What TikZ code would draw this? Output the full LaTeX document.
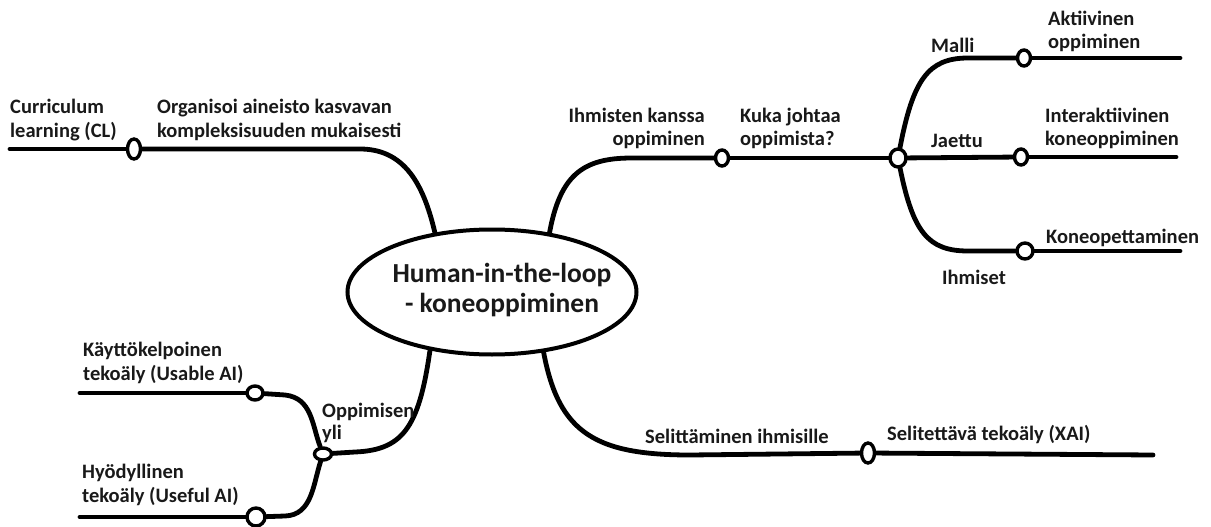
\documentclass[tikz,border=0pt]{standalone}
\usepackage{fontspec}
\setmainfont{Carlito}
\usetikzlibrary{shapes.geometric,backgrounds}
\begin{document}
\begin{tikzpicture}[x=1pt,y=-1pt,
  lbl/.style={font=\fontsize{20.5}{24}\selectfont\bfseries, text=black!90, inner sep=0pt, align=left},
  knot/.style={ellipse, draw, fill=white, line width=3.4pt, minimum width=13pt, minimum height=16pt, inner sep=0pt},
  branch/.style={line width=4.8pt, line cap=round},
  hubst/.style={ellipse, draw, fill=white, line width=4pt, minimum width=289pt, minimum height=125pt, inner sep=0pt},
  hubtxt/.style={align=center, inner sep=0pt, font=\fontsize{27.5}{30}\selectfont\bfseries, text=black!90}]
\useasboundingbox (0,0) rectangle (1211,527);

% hub
\node[hubst] (hub) at (492,292) {};
\node[hubtxt, anchor=base] (hubT) at (502,312) {Human-in-the-loop\\- koneoppiminen};

% knots
\node[knot, minimum height=20pt] (kCL) at (134,149) {};
\node[knot] (kIh) at (722,158) {};
\node[knot, minimum width=16pt, minimum height=18pt] (kJ) at (898,158) {};
\node[knot] (kA) at (1024,58) {};
\node[knot] (kI) at (1021,157) {};
\node[knot, minimum width=16pt] (kK) at (1025,251) {};
\node[knot, minimum height=20pt] (kX) at (868,453) {};
\node[knot, minimum width=16pt, minimum height=14pt] (kU) at (255,393) {};
\node[knot, minimum width=17pt, minimum height=12pt] (kO) at (323,454) {};
\node[knot, minimum width=18pt, minimum height=18pt] (kH) at (256,517) {};

% free ends and attachment points
\coordinate (eCL) at (10,149);
\coordinate (eA) at (1180,58);
\coordinate (eI) at (1176,157);
\coordinate (eK) at (1180,251);
\coordinate (eX) at (1153,455);
\coordinate (eU) at (80,393);
\coordinate (eH) at (80,517);
\coordinate (hTL) at (437,242);
\coordinate (hTR) at (548,242);
\coordinate (hBL) at (431,343);
\coordinate (hBR) at (542,343);

\begin{scope}[on background layer]
\fill[white] (0,0) rectangle (1211,527);
\draw[branch] (eCL) -- (kCL);
\draw[branch] (kCL) -- (360,149) .. controls (408,149) and (426,190) .. (hTL);
\draw[branch] (hTR) .. controls (558,175) and (582,158) .. (632,158) -- (kIh);
\draw[branch] (kIh) -- (kJ);
\draw[branch] (kJ) .. controls (913,80) and (928,58) .. (968,58) -- (kA);
\draw[branch] (kA) -- (eA);
\draw[branch] (kJ) -- (kI);
\draw[branch] (kI) -- (eI);
\draw[branch] (kJ) .. controls (913,232) and (928,251) .. (968,251) -- (kK);
\draw[branch] (kK) -- (eK);
\draw[branch] (hBR) .. controls (556,430) and (590,455) .. (690,455) -- (kX);
\draw[branch] (kX) -- (eX);
\draw[branch] (hBL) .. controls (420,425) and (405,450) .. (355,452) -- (kO);
\draw[branch] (eU) -- (kU);
\draw[branch] (kU) -- (285,395) .. controls (312,398) and (312,425) .. (kO);
\draw[branch] (kO) .. controls (313,485) and (312,515) .. (285,516) -- (kH);
\draw[branch] (kH) -- (eH);
\end{scope}

% labels (base = baseline of the last line)
\node[lbl, anchor=base west] (tCL) at (10,137) {Curriculum\\learning (CL)};
\node[lbl, anchor=base west] (tOrg) at (157,137) {Organisoi aineisto kasvavan\\kompleksisuuden mukaisesti};
\node[lbl, anchor=base east, align=right] (tIh) at (705,146) {Ihmisten kanssa\\oppiminen};
\node[lbl, anchor=base west] (tKu) at (740,146) {Kuka johtaa\\oppimista?};
\node[lbl, anchor=base west] (tM) at (931,53) {Malli};
\node[lbl, anchor=base west] (tAk) at (1048,49) {Aktiivinen\\oppiminen};
\node[lbl, anchor=base west] (tJ) at (931,147) {Jaettu};
\node[lbl, anchor=base west] (tIn) at (1045,146) {Interaktiivinen\\koneoppiminen};
\node[lbl, anchor=base west] (tKo) at (1046,243) {Koneopettaminen};
\node[lbl, anchor=base west] (tIhm) at (942,284) {Ihmiset};
\node[lbl, anchor=base west] (tSe) at (645,443) {Selittäminen ihmisille};
\node[lbl, anchor=base west] (tXAI) at (887,440) {Selitettävä tekoäly (XAI)};
\node[lbl, anchor=base west] (tUs) at (83,380) {Käyttökelpoinen\\tekoäly (Usable AI)};
\node[lbl, anchor=base west] (tOp) at (322,417) {Oppimisen};
\node[lbl, anchor=base west] (tOp2) at (322,439) {yli};
\node[lbl, anchor=base west] (tUf) at (82,502) {Hyödyllinen\\tekoäly (Useful AI)};
\end{tikzpicture}
\end{document}
